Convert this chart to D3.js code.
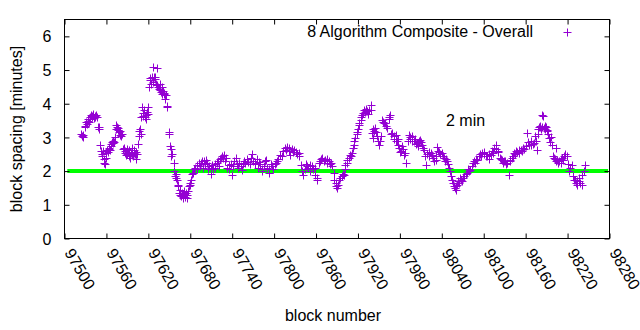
<!DOCTYPE html>
<html><head><meta charset="utf-8">
<script src="https://cdn.jsdelivr.net/npm/d3@7"></script>
<style>
body{margin:0;background:#fff}
svg{display:block}
text{font-family:"Liberation Sans",Arial,sans-serif;font-size:16px;fill:#000}
</style>
</head><body>
<svg id="chart" width="640" height="330"></svg>
<script>
const seriesName = "8 Algorithm Composite - Overall";
const xLabel = "block number";
const yLabel = "block spacing [minutes]";
const refLabel = "2 min";
const refLineX = [97504, 98278];
const refLineY = [2, 2];
const xTickValues = [97500,97560,97620,97680,97740,97800,97860,97920,97980,98040,98100,98160,98220,98280];
const yTickValues = [0,1,2,3,4,5,6];
const xDomain = [97500, 98280];
const yDomain = [0, 6.5];

// [block number, block spacing in minutes]
const points = [
[97524,3.10],[97525,3.05],[97526,3.0],[97527,3.08],[97529,3.35],[97530,3.3],[97531,3.45],[97532,3.4],[97533,3.5],[97534,3.55],[97535,3.45],[97536,3.62],[97537,3.55],[97538,3.68],[97539,3.6],[97540,3.65],[97541,3.7],[97542,3.58],[97543,3.63],[97544,3.6],[97545,3.66],[97547,3.62],[97548,3.3],[97549,3.25],[97550,3.32],
[97551,2.78],[97552,2.6],[97553,2.5],[97554,2.45],[97555,2.6],[97556,2.35],[97557,2.25],[97558,2.22],[97559,2.4],[97560,2.55],
[97561,2.62],[97562,2.58],[97563,2.65],[97564,2.7],[97565,2.62],[97566,2.8],[97567,2.75],[97568,2.85],[97569,2.82],[97570,2.88],[97571,2.85],[97572,3.0],[97573,3.25],[97574,3.37],[97575,3.3],[97576,3.22],[97577,3.28],[97578,3.15],[97579,3.18],[97580,3.08],[97581,3.05],[97582,3.1],
[97584,2.65],[97585,2.7],[97586,2.55],[97587,2.6],[97588,2.48],[97589,2.65],[97590,2.5],[97591,2.58],[97592,2.45],[97593,2.62],[97594,2.4],[97595,2.55],[97596,2.5],[97597,2.68],[97598,2.45],[97599,2.55],[97600,2.62],[97601,2.5],[97602,2.58],[97603,2.35],[97604,2.52],[97605,2.8],
[97606,3.05],[97607,3.2],[97608,3.25],[97609,3.1],[97610,3.6],[97611,3.9],[97612,3.72],[97613,3.65],[97614,3.8],[97615,3.6],[97616,3.55],[97617,3.68],[97618,3.75],[97619,3.9],[97620,3.7],
[97621,4.5],[97622,4.7],[97623,4.75],[97624,4.6],[97625,4.8],
[97626,5.1],[97627,4.65],[97628,4.8],[97629,4.72],[97630,4.78],[97631,4.6],[97632,4.55],[97633,5.05],[97634,4.5],[97635,4.45],[97636,4.58],[97637,4.4],[97638,4.35],[97639,4.5],[97640,4.3],[97641,4.38],[97642,4.28],[97643,4.32],[97644,4.15],[97645,4.25],[97646,3.92],[97647,3.9],[97649,3.15],[97650,3.1],[97651,2.75],[97652,2.65],[97653,2.45],[97654,2.5],[97656,2.25],[97657,2.0],[97658,1.85],[97659,1.9],[97660,1.8],[97661,1.75],
[97662,1.55],[97663,1.6],[97664,1.35],[97665,1.3],[97666,1.45],[97667,1.25],[97668,1.35],[97669,1.2],[97670,1.3],[97671,1.4],[97672,1.28],[97673,1.22],[97674,1.35],[97675,1.3],[97676,1.2],[97677,1.42],[97678,1.55],[97679,1.65],[97680,1.6],[97681,1.75],[97683,1.9],[97684,1.95],[97685,2.05],
[97687,2.1],[97689,2.19],[97690,2.05],[97692,2.25],[97694,2.15],[97695,2.24],[97697,2.3],[97698,2.1],[97699,2.29],[97701,2.2],[97702,2.34],[97704,2.25],[97706,2.05],[97707,2.15],[97709,1.9],[97710,2.1],[97711,2.19],[97713,2.05],[97715,2.2],[97716,2.1],[97718,2.24],[97719,2.3],[97721,2.15],[97722,2.35],[97724,2.4],[97726,2.45],[97727,2.38],[97728,2.49],[97730,2.3],[97731,2.4],[97733,2.1],[97735,2.19],[97736,2.05],[97738,2.2],[97740,1.89],[97741,2.15],[97743,2.3],[97745,2.39],[97747,2.2],[97749,2.1],[97750,2.25],[97752,2.15],[97754,2.04],[97755,2.2],[97757,2.3],[97759,2.24],[97761,2.35],[97763,2.28],[97765,2.2],[97767,2.4],[97769,2.51],[97770,2.3],[97772,2.2],[97773,2.24],[97775,2.35],[97777,2.1],[97778,2.28],[97780,2.2],[97782,2.05],[97783,1.99],[97785,2.15],[97787,2.3],[97788,2.34],[97790,2.1],[97792,1.95],[97793,2.05],[97795,2.2],[97797,2.14],[97799,2.05],[97801,2.2],[97803,2.25],[97804,2.29],
[97806,2.35],[97809,2.49],[97811,2.45],[97813,2.6],[97815,2.68],[97817,2.62],[97818,2.7],[97819,2.73],[97821,2.6],[97822,2.68],[97823,2.49],[97825,2.65],[97827,2.58],[97829,2.62],[97831,2.58],[97833,2.5],[97835,2.55],[97836,2.45],[97838,2.19],[97840,1.99],[97842,1.89],[97844,2.05],[97846,2.2],[97847,2.14],[97849,2.1],[97851,2.0],[97852,2.19],[97854,2.15],[97856,2.05],[97858,2.1],[97859,1.89],[97861,1.8],[97862,1.75],[97864,2.24],[97866,2.3],[97867,2.35],[97869,2.39],[97871,2.3],[97873,2.34],[97875,2.25],[97876,2.35],[97878,2.29],[97880,2.2],[97881,2.25],[97883,2.14],[97885,1.95],[97886,1.75],[97888,1.65],[97889,1.55],[97890,1.5],[97891,1.6],[97893,1.75],[97895,1.8],[97897,1.85],[97898,1.9],[97900,1.89],[97901,2.05],[97902,2.19],[97904,2.25],[97905,2.34],[97907,2.4],[97909,2.49],[97910,2.45],[97912,2.53],[97913,2.7],[97914,2.78],[97915,2.9],[97916,2.98],[97918,3.1],[97919,3.17],[97920,3.25],[97921,3.37],[97922,3.42],[97924,3.52],[97925,3.6],[97926,3.67],[97927,3.72],[97928,3.82],[97930,3.75],[97931,3.85],[97933,3.77],[97934,3.7],[97936,3.8],[97938,3.96],[97939,3.8],
[97940,3.13],[97941,3.25],[97942,2.98],[97943,3.2],[97945,3.28],[97946,3.15],[97947,3.03],[97948,2.9],[97950,2.78],[97951,2.9],[97953,3.05],[97955,3.52],[97956,3.45],[97957,3.42],[97959,3.42],[97960,3.35],[97962,3.28],[97964,3.55],[97965,3.6],[97966,3.67],[97967,3.1],[97969,3.13],[97971,3.05],[97972,2.95],[97974,3.08],[97975,2.9],[97976,2.88],[97977,2.95],[97978,2.78],[97979,2.7],[97980,2.58],[97982,2.6],[97983,2.75],[97984,2.65],[97986,2.49],[97987,2.55],[97989,2.24],[97991,2.9],[97993,3.08],[97994,2.95],[97995,3.0],[97997,3.03],[97998,2.9],[98000,2.88],[98001,2.95],[98003,2.8],[98005,2.83],[98006,2.75],[98007,2.9],[98009,2.93],[98010,2.85],[98012,2.78],[98013,2.7],[98014,2.63],[98016,2.45],[98018,2.19],[98019,2.5],[98021,2.58],[98022,2.45],[98024,2.55],[98026,2.49],[98027,2.4],[98029,2.3],[98031,2.34],[98032,2.45],[98033,2.73],[98034,2.6],[98036,2.58],[98038,2.5],[98040,2.53],[98041,2.45],[98043,2.39],[98044,2.3],[98046,2.35],[98048,2.29],[98049,2.2],[98050,2.1],[98052,2.0],[98053,1.85],[98055,1.75],[98056,1.65],[98058,1.55],[98059,1.5],[98060,1.45],[98061,1.55],[98062,1.6],[98063,1.7],[98065,1.65],[98066,1.8],[98067,1.75],[98069,1.7],[98071,1.8],[98072,1.85],[98074,1.9],[98076,1.94],[98078,2.05],[98079,2.0],[98081,2.04],[98083,2.15],[98084,2.25],[98086,2.29],[98088,2.25],[98089,2.35],[98091,2.34],[98093,2.44],[98095,2.5],[98096,2.45],[98098,2.55],[98100,2.58],[98101,2.5],[98103,2.45],[98105,2.44],[98107,2.35],[98108,2.5],[98110,2.49],[98112,2.6],[98113,2.55],[98115,2.7],[98117,2.78],[98118,2.65],[98120,2.6],[98121,2.58],[98123,2.4],[98124,2.35],[98126,2.34],[98128,2.25],[98129,2.3],[98131,2.29],[98132,2.2],[98134,2.25],[98136,1.89],[98137,2.3],[98138,2.34],[98140,2.4],[98142,2.45],[98143,2.53],[98145,2.5],[98146,2.6],[98148,2.58],[98150,2.55],[98151,2.62],[98153,2.63],[98155,2.6],[98156,2.7],[98158,2.65],[98160,2.75],[98162,3.13],[98163,2.85],[98165,2.78],[98167,2.78],[98168,2.9],[98170,2.8],[98172,2.83],[98174,3.03],[98175,2.9],[98176,2.63],[98177,3.1],[98178,3.25],[98179,3.32],[98180,3.3],[98181,3.35],[98182,3.25],[98183,3.3],[98184,3.67],[98185,3.65],[98186,3.28],[98187,3.35],[98188,3.25],[98189,3.3],[98190,3.2],[98191,3.22],[98192,3.1],[98193,2.98],[98195,2.85],[98196,3.0],[98198,2.78],[98199,2.45],[98200,2.39],[98202,2.35],[98203,2.68],[98204,2.3],[98205,2.34],[98207,2.25],[98208,2.3],[98210,2.24],[98211,2.35],[98212,2.4],[98214,2.34],[98215,2.45],[98217,2.5],[98219,2.44],[98221,2.2],[98222,2.0],[98224,2.1],[98226,2.19],[98228,1.85],[98229,1.75],[98231,1.75],[98232,1.65],[98233,1.7],[98234,1.6],[98236,1.7],[98237,1.8],[98238,1.65],[98240,1.6],[98241,1.89],[98243,2.0],[98245,2.19]
];

const pointColor = "#9400d3";
const lineColor = "#00ff00";

const svg = d3.select("#chart");
const L = 64.5, R = 609.5, T = 19.5, B = 238.5;
const x = d3.scaleLinear().domain(xDomain).range([L, R]);
const y = d3.scaleLinear().domain(yDomain).range([B, T]);

// reference line
svg.append("line")
  .attr("x1", x(refLineX[0])).attr("x2", x(refLineX[1]))
  .attr("y1", y(refLineY[0])).attr("y2", y(refLineY[1]))
  .attr("stroke", lineColor).attr("stroke-width", 4);

// axes
const gx = svg.append("g").attr("transform", `translate(0,${B})`)
  .call(d3.axisBottom(x).tickValues(xTickValues).tickSize(-5).tickPadding(0).tickFormat(d3.format("d")));
gx.selectAll(".tick text")
  .attr("x", 0).attr("y", 0).attr("dy", 0)
  .attr("text-anchor", "start")
  .attr("transform", "translate(-1,14) rotate(60)");
svg.append("g").attr("transform", `translate(0,${T})`)
  .call(d3.axisTop(x).tickValues(xTickValues).tickSize(-5).tickFormat(""));
const gy = svg.append("g").attr("transform", `translate(${L},0)`)
  .call(d3.axisLeft(y).tickValues(yTickValues).tickSize(-5).tickPadding(13).tickFormat(d3.format("d")));
gy.selectAll(".tick text").attr("dy", "0.35em");
svg.append("g").attr("transform", `translate(${R},0)`)
  .call(d3.axisRight(y).tickValues(yTickValues).tickSize(-5).tickFormat(""));
svg.selectAll(".domain").remove();
svg.selectAll(".tick line").attr("stroke", "#000");
svg.selectAll(".tick text").attr("fill", "#000").style("font-size", "16px")
  .style("font-family", '"Liberation Sans",Arial,sans-serif');

// frame
svg.append("rect").attr("x", L).attr("y", T).attr("width", R - L).attr("height", B - T)
  .attr("fill", "none").attr("stroke", "#000").attr("stroke-width", 1);

// points
const cross = (cx, cy, s) => `M${cx - s},${cy}h${2 * s}M${cx},${cy - s}v${2 * s}`;
svg.append("path")
  .attr("d", points.map(d => cross(Math.round(x(d[0])) + 0.5, Math.round(y(d[1])) + 0.5, 4)).join(""))
  .attr("fill", "none").attr("stroke", pointColor).attr("stroke-width", 1);

// legend
svg.append("text").attr("x", 533).attr("y", 37).attr("text-anchor", "end").text(seriesName);
svg.append("path").attr("d", cross(567.5, 32.5, 4)).attr("stroke", pointColor).attr("fill", "none");

// label
svg.append("text").attr("x", 446).attr("y", 126).text(refLabel);

// axis titles
svg.append("text").attr("x", 333).attr("y", 321).attr("text-anchor", "middle").text(xLabel);
svg.append("text").attr("transform", "translate(22,129) rotate(-90)").attr("text-anchor", "middle").text(yLabel);
</script>
</body></html>
